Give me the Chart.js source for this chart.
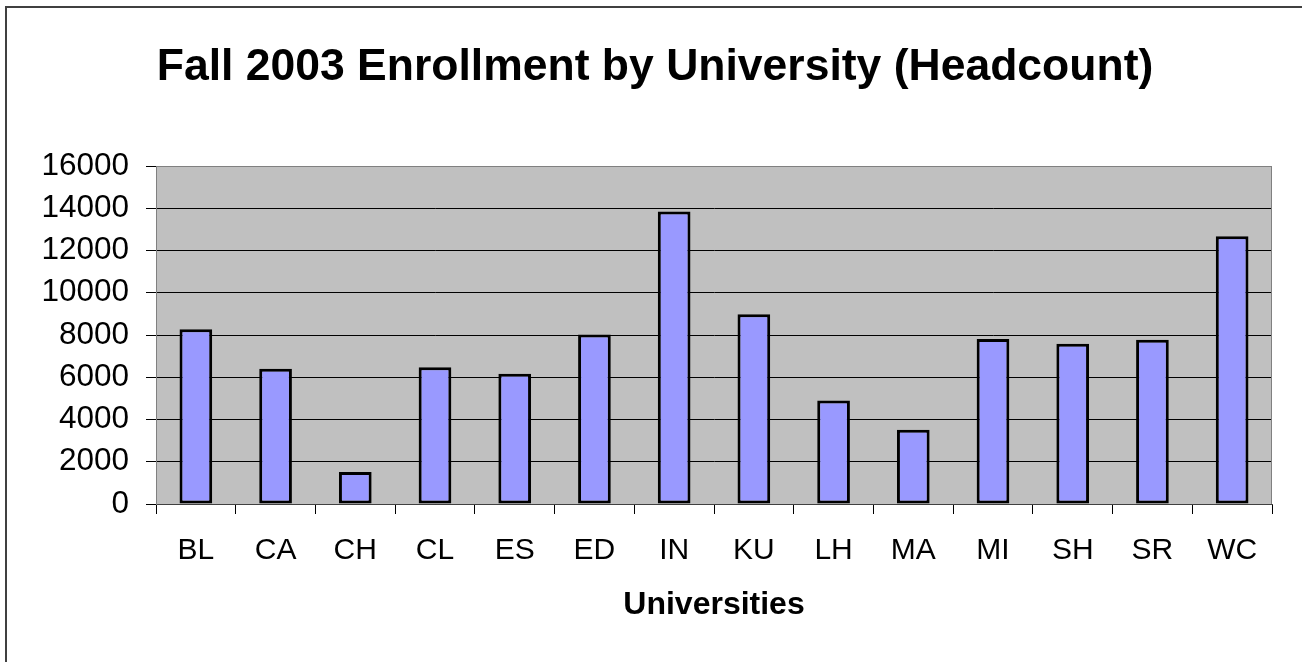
<!DOCTYPE html>
<html>
<head>
<meta charset="utf-8">
<title>Fall 2003 Enrollment by University</title>
<script src="https://cdn.jsdelivr.net/npm/chart.js@4.4.1/dist/chart.umd.min.js"></script>
<style>
  html, body { margin: 0; padding: 0; background: #fff; overflow: hidden; }
  #wrap { position: relative; width: 1302px; height: 662px; }
  #frame { position: absolute; left: 5px; top: 6px; width: 1400px; height: 800px;
           border-left: 2px solid #404040; border-top: 2px solid #404040; }
  #chart { position: absolute; left: 0; top: 0; }
</style>
</head>
<body>
<div id="wrap">
  <div id="frame"></div>
  <canvas id="chart" width="1302" height="662"></canvas>
</div>
<script>
// data
var universities = ['BL', 'CA', 'CH', 'CL', 'ES', 'ED', 'IN', 'KU', 'LH', 'MA', 'MI', 'SH', 'SR', 'WC'];
var headcount = [8270, 6400, 1510, 6470, 6160, 8020, 13850, 8980, 4900, 3510, 7810, 7580, 7770, 12670];
var yTicks = [0, 2000, 4000, 6000, 8000, 10000, 12000, 14000, 16000];

var fontFamily = '"Liberation Sans", Arial, Helvetica, sans-serif';

// grey plot background + grey top/right border like the old Excel charts
var plotArea = {
    id: 'plotArea',
    beforeDraw(chart) {
        let { ctx, chartArea: a } = chart;
        ctx.save();
        ctx.fillStyle = '#c0c0c0';
        ctx.fillRect(a.left, a.top, a.right - a.left, a.bottom - a.top);
        ctx.restore();
    },
    afterDatasetsDraw(chart) {
        let { ctx, chartArea: a } = chart;
        ctx.save();
        ctx.strokeStyle = '#808080';
        ctx.lineWidth = 1;
        ctx.beginPath();
        ctx.moveTo(a.left, a.top + 0.5);
        ctx.lineTo(a.right - 0.5, a.top + 0.5);
        ctx.lineTo(a.right - 0.5, a.bottom);
        ctx.stroke();
        ctx.restore();
    }
};

new Chart(document.getElementById('chart').getContext('2d'), {
    type: 'bar',
    data: {
        labels: universities,
        datasets: [{
            label: 'Headcount',
            data: headcount,
            backgroundColor: '#9999ff',
            borderColor: '#000000',
            borderWidth: 3,
            borderSkipped: false,
            barPercentage: 0.41,
            categoryPercentage: 1
        }]
    },
    options: {
        responsive: false,
        animation: false,
        devicePixelRatio: 1,
        // left pad shifts the title centre to match the original
        layout: { padding: { top: 0, left: 8, right: 0, bottom: 0 } },
        plugins: {
            legend: { display: false },
            tooltip: { enabled: false },
            title: {
                display: true,
                text: 'Fall 2003 Enrollment by University (Headcount)',
                color: '#000',
                font: { family: fontFamily, size: 44.5, weight: 'bold', lineHeight: 1.2 },
                padding: { top: 41.3, bottom: 71.3 }
            }
        },
        scales: {
            x: {
                afterFit(scale) { scale.height = 158; },
                grid: {
                    display: true,
                    drawOnChartArea: false,
                    drawTicks: true,
                    tickLength: 10,
                    color: '#000',
                    lineWidth: 1
                },
                border: { display: true, color: '#404040', width: 1 },
                ticks: {
                    color: '#000',
                    padding: 19,
                    maxRotation: 0,
                    autoSkip: false,
                    font: { family: fontFamily, size: 30 }
                },
                title: {
                    display: true,
                    text: 'Universities',
                    color: '#000',
                    font: { family: fontFamily, size: 32, weight: 'bold', lineHeight: 1.2 },
                    padding: { top: 0, bottom: 38 }
                }
            },
            y: {
                min: 0,
                max: 16000,
                afterFit(scale) { scale.width = 148; },
                afterBuildTicks(scale) { scale.ticks = yTicks.map(v => ({ value: v })); },
                grid: {
                    display: true,
                    drawOnChartArea: true,
                    drawTicks: true,
                    tickLength: 10,
                    color: (c) => (c.tick && c.tick.value === 16000) ? '#808080' : '#000',
                    tickColor: '#000',
                    lineWidth: 1
                },
                border: { display: true, color: '#808080', width: 1 },
                ticks: {
                    color: '#000',
                    padding: 17,
                    callback: (v) => String(v),
                    font: { family: fontFamily, size: 31.5 }
                }
            },
            // empty right axis only reserves the white margin on the right
            yRight: {
                position: 'right',
                display: true,
                afterFit(scale) { scale.width = 30; },
                grid: { display: false },
                border: { display: false },
                ticks: { display: false }
            }
        }
    },
    plugins: [plotArea]
});
</script>
</body>
</html>
